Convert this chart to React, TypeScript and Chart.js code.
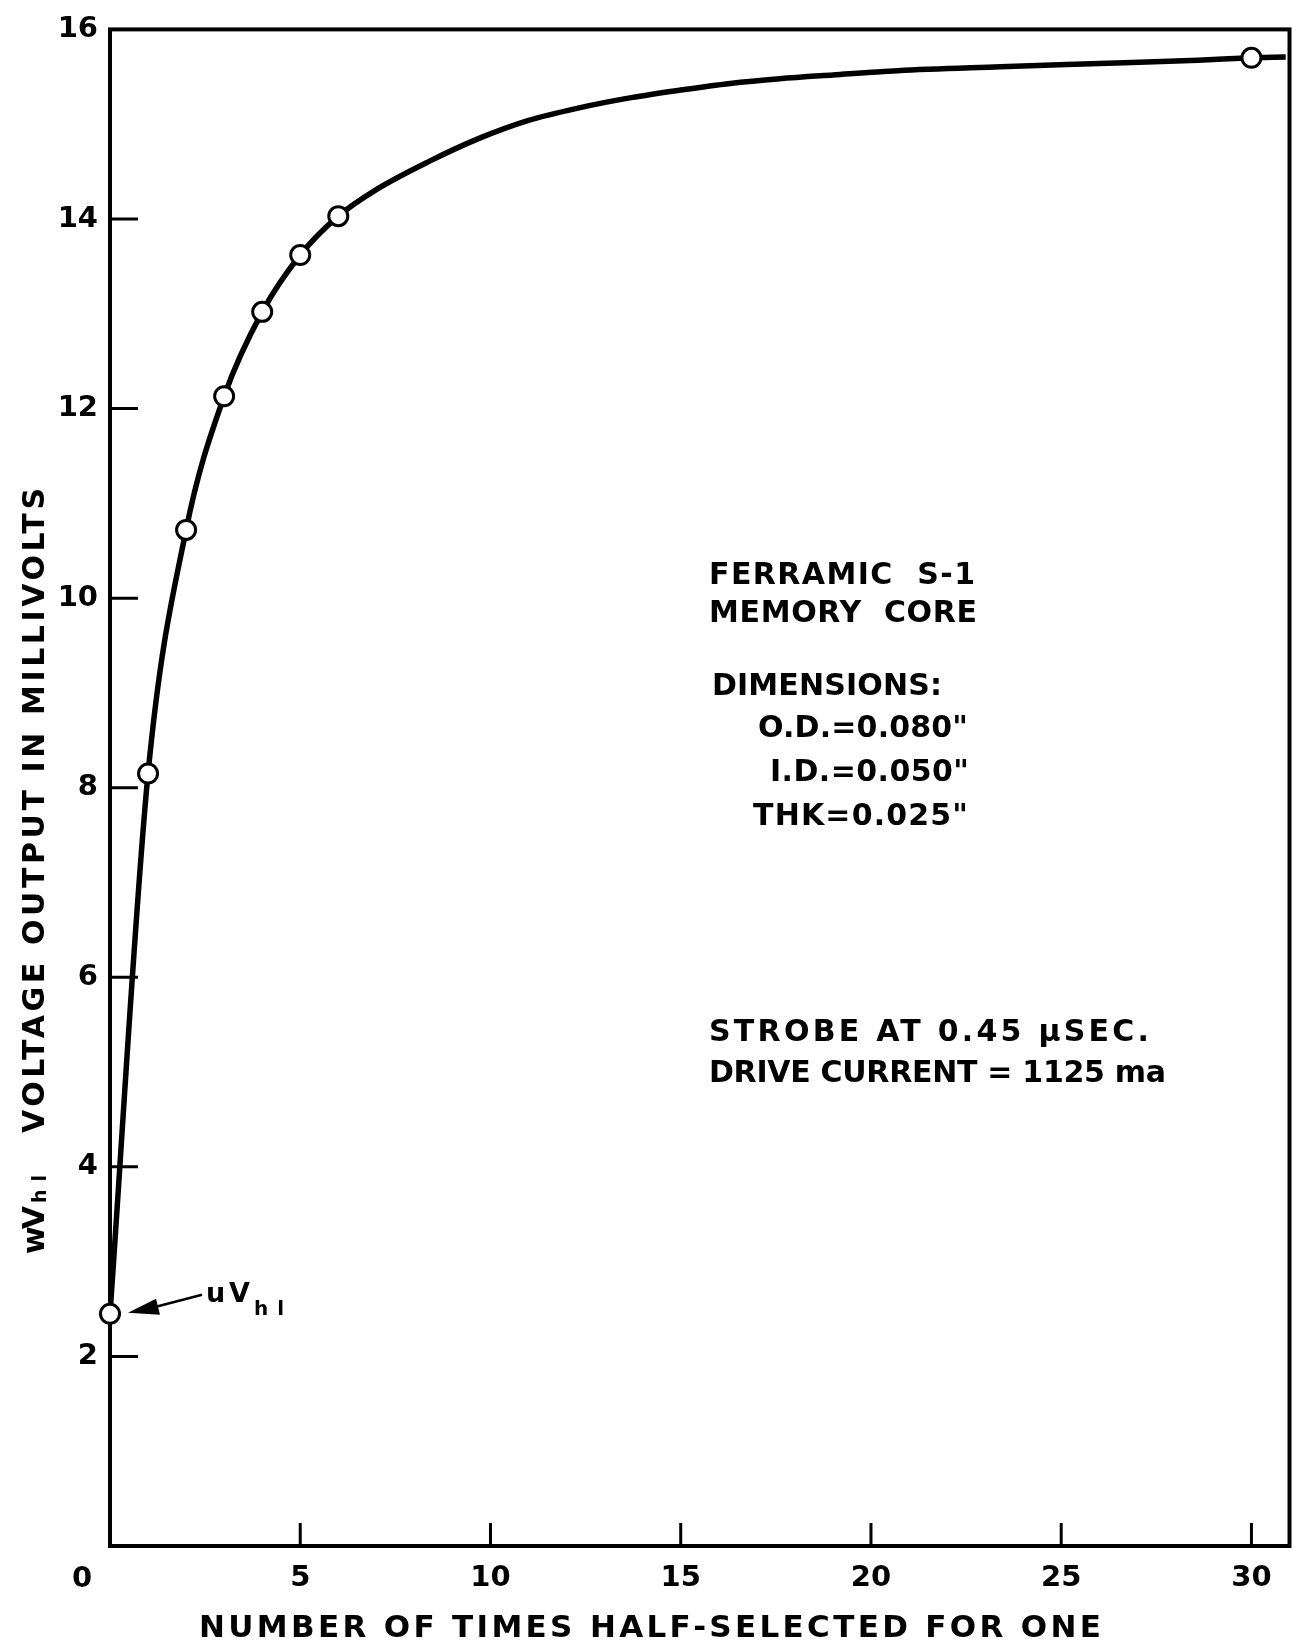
import React, { useEffect, useRef } from "react";
import { Chart, registerables } from "chart.js";

Chart.register(...registerables);

// ---- data ----
const pointX = [0, 1, 2, 3, 4, 5, 6, 30];
const pointY = [2.45, 8.15, 10.72, 12.13, 13.02, 13.62, 14.03, 15.7];

const curveX = [0, 1, 2, 3, 4, 5, 6, 7, 8.4, 9.7, 11, 12.3, 13.7, 15, 16.3, 17.6, 19, 20.7, 23.4, 26, 28.6, 30, 30.9];
const curveY = [2.45, 8.15, 10.72, 12.13, 13.02, 13.62, 14.03, 14.31, 14.61, 14.85, 15.04, 15.17, 15.28, 15.36, 15.43, 15.48, 15.52, 15.565, 15.605, 15.64, 15.675, 15.7, 15.71];

const xTickValues = [0, 5, 10, 15, 20, 25, 30];
const yTickValues = [2, 4, 6, 8, 10, 12, 14, 16];

const xAxisTitle = "NUMBER OF TIMES HALF-SELECTED FOR ONE";
const yAxisTitle = "VOLTAGE OUTPUT IN MILLIVOLTS";
const yAxisSymbol = "wV";
const yAxisSymbolSub = "hl";
const markerLabel = "uV";
const markerLabelSub = "hl";

const noteLines = [
  "FERRAMIC  S-1",
  "MEMORY  CORE",
  "DIMENSIONS:",
  "O.D.=0.080\"",
  "I.D.=0.050\"",
  "THK=0.025\"",
  "STROBE AT 0.45 \u03BCSEC.",
  "DRIVE CURRENT = 1125 ma",
];

// ---- layout (positions only) ----
const W = 1302;
const H = 1645;
const FONT = '"DejaVu Sans", sans-serif';
// [x, baseline, right edge] for each note line
const noteBoxes = [
  [709, 584, 975],
  [709, 622, 977],
  [712, 695, 942],
  [758, 737, 968],
  [770, 781, 969],
  [753, 825, 968],
  [709, 1041, 1149],
  [709, 1082, 1166],
];

function drawSpaced(ctx: CanvasRenderingContext2D, text: string, x: number, y: number, width: number) {
  (ctx as any).letterSpacing = "0px";
  const w = ctx.measureText(text).width;
  const n = text.length - 1;
  const sp = n > 0 ? (width - w) / n : 0;
  (ctx as any).letterSpacing = sp + "px";
  ctx.textAlign = "left";
  ctx.fillText(text, x, y);
  (ctx as any).letterSpacing = "0px";
}

const framePlugin = {
  id: "frameAndTicks",
  beforeDatasetsDraw(chart: any) {
    const { ctx, chartArea: a, scales } = chart;
    ctx.save();
    ctx.strokeStyle = "#000";
    ctx.lineWidth = 4;
    ctx.lineJoin = "miter";
    ctx.strokeRect(a.left, a.top, a.right - a.left, a.bottom - a.top);
    ctx.lineWidth = 3;
    ctx.beginPath();
    for (const v of yTickValues) {
      if (v >= 16) continue;
      const y = scales.y.getPixelForValue(v);
      ctx.moveTo(a.left, y);
      ctx.lineTo(a.left + 28, y);
    }
    for (const v of xTickValues) {
      if (v === 0) continue;
      const x = scales.x.getPixelForValue(v);
      ctx.moveTo(x, a.bottom);
      ctx.lineTo(x, a.bottom - 23);
    }
    ctx.stroke();
    ctx.restore();
  },
  afterDraw(chart: any) {
    const { ctx, chartArea: a, scales } = chart;
    ctx.save();
    ctx.fillStyle = "#000";
    ctx.strokeStyle = "#000";

    // "0" label of the x axis, set left of the corner
    ctx.font = `bold 29px ${FONT}`;
    ctx.textAlign = "center";
    ctx.textBaseline = "middle";
    ctx.fillText(String(xTickValues[0]), scales.x.getPixelForValue(0) - 28, a.bottom + 33);
    ctx.textBaseline = "alphabetic";

    // x axis title
    ctx.font = `bold 31px ${FONT}`;
    drawSpaced(ctx, xAxisTitle, 199, 1637, 902);

    // y axis title (rotated)
    ctx.save();
    ctx.translate(44, 0);
    ctx.rotate(-Math.PI / 2);
    ctx.font = `bold 30px ${FONT}`;
    drawSpaced(ctx, yAxisTitle, -1133, 0, 645);
    drawSpaced(ctx, yAxisSymbol, -1254, 0, 48);
    ctx.font = `bold 19px ${FONT}`;
    drawSpaced(ctx, yAxisSymbolSub, -1203, 2, 28);
    ctx.restore();

    // notes
    ctx.font = `bold 30px ${FONT}`;
    noteLines.forEach((t, i) => {
      const [x, y, r] = noteBoxes[i];
      drawSpaced(ctx, t, x, y, r - x);
    });

    // uV_hl arrow pointing at the first point
    const px = scales.x.getPixelForValue(pointX[0]);
    const py = scales.y.getPixelForValue(pointY[0]);
    ctx.beginPath();
    ctx.moveTo(px + 18, py - 1);
    ctx.lineTo(px + 46, py - 15);
    ctx.lineTo(px + 50, py + 1);
    ctx.closePath();
    ctx.fill();
    ctx.lineWidth = 2.5;
    ctx.beginPath();
    ctx.moveTo(px + 46, py - 7);
    ctx.lineTo(px + 92, py - 19);
    ctx.stroke();
    ctx.font = `bold 27px ${FONT}`;
    drawSpaced(ctx, markerLabel, px + 96, py - 12, 44);
    ctx.font = `bold 20px ${FONT}`;
    drawSpaced(ctx, markerLabelSub, px + 144, py + 1, 30);

    ctx.restore();
  },
};

export default function App() {
  const ref = useRef<HTMLCanvasElement | null>(null);

  useEffect(() => {
    if (!ref.current) return;
    const tickFont = { family: "DejaVu Sans", size: 29, weight: "bold" as const };
    const chart = new Chart(ref.current, {
      type: "line",
      data: {
        datasets: [
          {
            label: "curve",
            data: curveX.map((x, i) => ({ x, y: curveY[i] })),
            borderColor: "#000",
            borderWidth: 5.5,
            pointRadius: 0,
            cubicInterpolationMode: "monotone",
            fill: false,
            clip: false as any,
            order: 2,
          },
          {
            label: "measured",
            data: pointX.map((x, i) => ({ x, y: pointY[i] })),
            showLine: false,
            borderColor: "#000",
            backgroundColor: "#fff",
            pointBackgroundColor: "#fff",
            pointBorderColor: "#000",
            pointBorderWidth: 3,
            pointRadius: 9.5,
            clip: false as any,
            order: 1,
          },
        ],
      },
      options: {
        animation: false,
        responsive: false,
        maintainAspectRatio: false,
        layout: { padding: { left: 0, top: 23, right: 9, bottom: 0 } },
        plugins: {
          legend: { display: false },
          tooltip: { enabled: false },
          title: { display: false },
        },
        scales: {
          x: {
            type: "linear",
            min: 0,
            max: 31,
            grid: { display: false, drawTicks: false },
            border: { display: false },
            ticks: { font: tickFont, color: "#000", padding: 15, maxRotation: 0, autoSkip: false },
            afterBuildTicks: (s: any) => {
              s.ticks = xTickValues.filter((v) => v !== 0).map((v) => ({ value: v }));
            },
            afterFit: (s: any) => {
              s.height = 99;
            },
          },
          y: {
            type: "linear",
            min: 0,
            max: 16,
            grid: { display: false, drawTicks: false },
            border: { display: false },
            ticks: { font: tickFont, color: "#000", padding: 12, autoSkip: false },
            afterBuildTicks: (s: any) => {
              s.ticks = yTickValues.map((v) => ({ value: v }));
            },
            afterFit: (s: any) => {
              s.width = 110;
            },
          },
        },
      },
      plugins: [framePlugin],
    });
    return () => chart.destroy();
  }, []);

  return (
    <div style={{ position: "fixed", left: 0, top: 0, width: W, height: H, background: "#fff" }}>
      <canvas ref={ref} width={W} height={H} style={{ display: "block", width: W, height: H }} />
    </div>
  );
}
